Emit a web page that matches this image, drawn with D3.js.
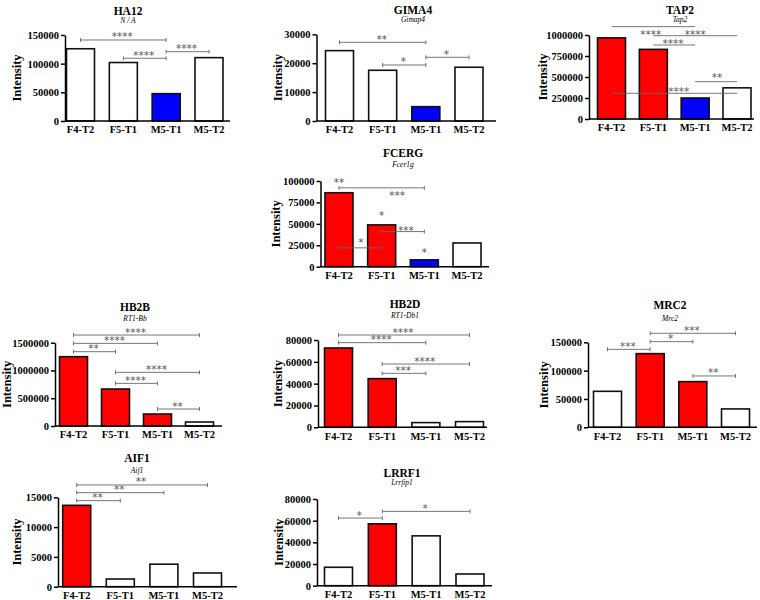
<!DOCTYPE html>
<html><head><meta charset="utf-8">
<script src="https://cdn.jsdelivr.net/npm/d3@7"></script>
<style>body{margin:0;background:#fff}svg{display:block}</style>
</head><body><svg id="c" width="760" height="600"></svg>
<script>
// ---------- DATA ----------
const categories = ["F4-T2", "F5-T1", "M5-T1", "M5-T2"];
const titles = ["HA12", "GIMA4", "TAP2", "FCERG", "HB2B", "HB2D", "MRC2", "AIF1", "LRRF1"];
const genes  = ["N / A", "Gimap4", "Tap2", "Fcer1g", "RT1-Bb", "RT1-Db1", "Mrc2", "Aif1", "Lrrfip1"];

const ha12Values  = [126000, 102000, 47700, 110500];
const gima4Values = [24350, 17550, 4960, 18600];
const tap2Values  = [966000, 829000, 250000, 371000];
const fcergValues = [86300, 48800, 8000, 27700];
const hb2bValues  = [1248000, 666000, 216000, 72000];
const hb2dValues  = [72700, 44600, 4300, 5200];
const mrc2Values  = [63500, 130000, 80600, 32400];
const aif1Values  = [13650, 1290, 3780, 2300];
const lrrf1Values = [17000, 57100, 46000, 10800];

const ha12Status  = ["ns", "ns", "down", "ns"];
const gima4Status = ["ns", "ns", "down", "ns"];
const tap2Status  = ["up", "up", "down", "ns"];
const fcergStatus = ["up", "up", "down", "ns"];
const hb2bStatus  = ["up", "up", "up", "ns"];
const hb2dStatus  = ["up", "up", "ns", "ns"];
const mrc2Status  = ["ns", "up", "up", "ns"];
const aif1Status  = ["up", "ns", "ns", "ns"];
const lrrf1Status = ["ns", "up", "ns", "ns"];

const ha12Ticks  = [0, 50000, 100000, 150000];
const gima4Ticks = [0, 10000, 20000, 30000];
const tap2Ticks  = [0, 250000, 500000, 750000, 1000000];
const fcergTicks = [0, 25000, 50000, 75000, 100000];
const hb2bTicks  = [0, 500000, 1000000, 1500000];
const hb2dTicks  = [0, 20000, 40000, 60000, 80000];
const mrc2Ticks  = [0, 50000, 100000, 150000];
const aif1Ticks  = [0, 5000, 10000, 15000];
const lrrf1Ticks = [0, 20000, 40000, 60000, 80000];

// significance brackets: [fromIndex, toIndex, level (data units), label]
const ha12Sig  = [[0, 2, 141300, "****"], [1, 2, 109400, "****"], [2, 3, 120900, "****"]];
const gima4Sig = [[0, 2, 27230, "**"], [1, 2, 19380, "*"], [2, 3, 22040, "*"]];
const tap2Sig  = [[0, 2, 1099000, ""], [1, 3, 991700, ""], [1, 2, 881000, ""], [2, 3, 444000, ""], [0, 3, 306000, ""]];
const fcergSig = [[0, 2, 92000, ""], [1, 2, 41000, ""], [0, 1, 22000, ""]];
const hb2bSig  = [[0, 3, 1638000, "****"], [0, 2, 1488000, "****"], [0, 1, 1338000, "**"],
                  [1, 3, 966000, "****"], [1, 2, 768000, "****"], [2, 3, 306000, "**"]];
const hb2dSig  = [[0, 3, 84580, "****"], [0, 2, 77560, "****"], [1, 3, 58000, "****"], [1, 2, 49470, "***"]];
const mrc2Sig  = [[1, 3, 165900, "***"], [1, 2, 151200, "*"], [0, 1, 137600, "***"], [2, 3, 90600, "**"]];
const aif1Sig  = [[0, 3, 17070, "**"], [0, 2, 15780, "**"], [0, 1, 14440, "**"]];
const lrrf1Sig = [[0, 1, 62400, "*"], [1, 3, 68570, "*"]];

// free-standing star labels: [category position, level (data units), label]
const tap2Stars  = [[0.94, 984500, "****"], [2.0, 981000, "****"], [1.47, 874000, "****"],
                    [2.52, 469000, "**"], [1.61, 299000, "****"]];
const fcergStars = [[0.0, 95800, "**"], [1.36, 80600, "***"], [1.0, 57300, "*"],
                    [1.57, 39800, "***"], [0.51, 25800, "*"], [2.0, 14100, "*"]];

const panelValues = [ha12Values, gima4Values, tap2Values, fcergValues, hb2bValues, hb2dValues, mrc2Values, aif1Values, lrrf1Values];
const panelStatus = [ha12Status, gima4Status, tap2Status, fcergStatus, hb2bStatus, hb2dStatus, mrc2Status, aif1Status, lrrf1Status];
const panelTicks  = [ha12Ticks, gima4Ticks, tap2Ticks, fcergTicks, hb2bTicks, hb2dTicks, mrc2Ticks, aif1Ticks, lrrf1Ticks];
const panelSig    = [ha12Sig, gima4Sig, tap2Sig, fcergSig, hb2bSig, hb2dSig, mrc2Sig, aif1Sig, lrrf1Sig];
const panelStars  = [[], [], tap2Stars, fcergStars, [], [], [], [], []];

// ---------- LAYOUT ----------
const layout = [
  {ax: 65,    top: 35,    zero: 121,   c0: 80.5,  c3: 209,   xEnd: 230, tx: 128, ty: 14.8,  sy: 22.5,  lx: 16.5, caps: true},
  {ax: 316.5, top: 34.3,  zero: 121,   c0: 339.5, c3: 469,   xEnd: 496, tx: 413, ty: 14,    sy: 21.8,  lx: 278,  caps: true},
  {ax: 589,   top: 35,    zero: 119,   c0: 611.5, c3: 737,   xEnd: 754, tx: 680, ty: 13.5,  sy: 21.5,  lx: 543,  caps: false},
  {ax: 320.5, top: 181,   zero: 266.7, c0: 339,   c3: 467,   xEnd: 489, tx: 403, ty: 157,   sy: 167,   lx: 276,  caps: true},
  {ax: 55,    top: 342.7, zero: 426,   c0: 73.5,  c3: 199.5, xEnd: 222, tx: 135, ty: 310.5, sy: 320.5, lx: 7,    caps: true},
  {ax: 318,   top: 340,   zero: 427.3, c0: 338.5, c3: 469.5, xEnd: 487, tx: 405, ty: 308.3, sy: 318.3, lx: 278,  caps: true},
  {ax: 588,   top: 342.3, zero: 427.3, c0: 607.5, c3: 735.5, xEnd: 757, tx: 670, ty: 309,   sy: 320.5, lx: 544,  caps: true},
  {ax: 58,    top: 497.3, zero: 586.7, c0: 76.7,  c3: 207.5, xEnd: 237, tx: 137, ty: 462.3, sy: 472.5, lx: 16.7, caps: true},
  {ax: 317,   top: 499,   zero: 585.7, c0: 338.5, c3: 470,   xEnd: 492, tx: 402, ty: 476.6, sy: 484.6, lx: 278.5, caps: true}
];

const FONT = "'Liberation Serif', 'Times New Roman', serif";
const STAR_FONT = "'DejaVu Sans', sans-serif";
const svg = d3.select("#c");
svg.append("rect").attr("width", 760).attr("height", 600).attr("fill", "#fff");
const colorOf = d3.scaleOrdinal().domain(["up", "down", "ns"]).range(["#ff0000", "#0000ff", "#ffffff"]);

titles.forEach((title, k) => {
  const L = layout[k];
  const values = panelValues[k], status = panelStatus[k], ticks = panelTicks[k];
  const step = (L.c3 - L.c0) / 3;
  const pi = 1 - 28 / step;
  const x = d3.scaleBand().domain(categories)
    .range([L.c0 - step / 2, L.c3 + step / 2]).paddingInner(pi).paddingOuter(pi / 2);
  const y = d3.scaleLinear().domain([0, d3.max(ticks)]).range([L.zero, L.top]);
  const xi = i => x(categories[0]) + x.bandwidth() / 2 + i * x.step();
  const g = svg.append("g").attr("font-family", FONT);

  // bars
  g.selectAll("rect.bar").data(values).join("rect").attr("class", "bar")
    .attr("x", (d, i) => x(categories[i]))
    .attr("y", d => y(d))
    .attr("width", x.bandwidth())
    .attr("height", d => y(0) - y(d))
    .attr("fill", (d, i) => colorOf(status[i]))
    .attr("stroke", "#111").attr("stroke-width", 1.6);

  // y axis
  const ya = g.append("g").attr("transform", `translate(${L.ax},0)`)
    .call(d3.axisLeft(y).tickValues(ticks).tickSize(4).tickSizeOuter(0).tickPadding(2).tickFormat(d3.format("d")));
  ya.select(".domain").attr("stroke", "#000").attr("stroke-width", 1.5);
  ya.selectAll(".tick line").attr("stroke", "#000").attr("stroke-width", 1.5);
  ya.selectAll(".tick text").attr("font-family", FONT).attr("font-weight", "bold")
    .attr("font-size", 10.5).attr("fill", "#000");

  // x axis
  const xa = g.append("g").attr("transform", `translate(0,${L.zero})`)
    .call(d3.axisBottom(x).tickSize(0).tickPadding(5));
  xa.select(".domain").remove();
  xa.append("line").attr("x1", L.ax).attr("x2", L.xEnd).attr("y1", 0).attr("y2", 0)
    .attr("stroke", "#000").attr("stroke-width", 1.5);
  xa.selectAll(".tick text").attr("font-family", FONT).attr("font-weight", "bold")
    .attr("font-size", 10.5).attr("fill", "#000");

  // y label
  g.append("text")
    .attr("transform", `translate(${L.lx + 4},${(L.top + L.zero) / 2}) rotate(-90)`)
    .attr("text-anchor", "middle").attr("font-weight", "bold").attr("font-size", 12.5)
    .text("Intensity");

  // titles
  g.append("text").attr("x", L.tx).attr("y", L.ty).attr("text-anchor", "middle")
    .attr("font-weight", "bold").attr("font-size", 11.5).text(title);
  g.append("text").attr("x", L.tx).attr("y", L.sy).attr("text-anchor", "middle")
    .attr("font-style", "italic").attr("font-size", 7.5).text(genes[k]);

  // significance brackets
  const sig = g.append("g").attr("stroke", "#666").attr("stroke-width", 0.9);
  panelSig[k].forEach(([a, b, v, lab]) => {
    const yy = y(v), xa1 = xi(a), xb1 = xi(b);
    sig.append("line").attr("x1", xa1).attr("x2", xb1).attr("y1", yy).attr("y2", yy);
    if (L.caps) {
      sig.append("line").attr("x1", xa1).attr("x2", xa1).attr("y1", yy - 2).attr("y2", yy + 2);
      sig.append("line").attr("x1", xb1).attr("x2", xb1).attr("y1", yy - 2).attr("y2", yy + 2);
    }
    if (lab) {
      g.append("text").attr("x", (xa1 + xb1) / 2 - 1).attr("y", yy + 0.5)
        .attr("text-anchor", "middle").attr("font-family", STAR_FONT)
        .attr("font-size", 10.5).attr("fill", "#555").text(lab);
    }
  });
  panelStars[k].forEach(([pos, v, lab]) => {
    g.append("text").attr("x", xi(pos)).attr("y", y(v) + 1.4)
      .attr("text-anchor", "middle").attr("font-family", STAR_FONT)
      .attr("font-size", 10.5).attr("fill", "#555").text(lab);
  });
});
</script>
</body></html>
